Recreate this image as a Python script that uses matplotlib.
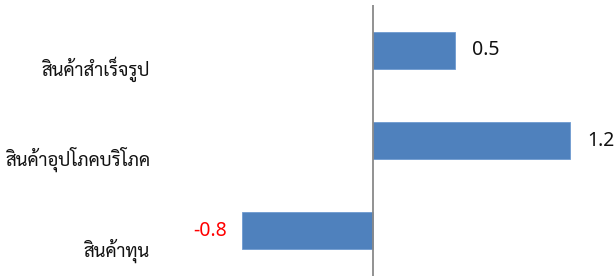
import matplotlib
matplotlib.use("Agg")
import matplotlib.pyplot as plt
from matplotlib.transforms import blended_transform_factory, offset_copy

plt.rcParams['font.family'] = ['Sarabun', 'DejaVu Sans']

categories = ["สินค้าทุน", "สินค้าอุปโภคบริโภค", "สินค้าสำเร็จรูป"]
values = [-0.8, 1.2, 0.5]
value_labels = ["-0.8", "1.2", "0.5"]

W, H, DPI = 616, 277, 100
fig = plt.figure(figsize=(W / DPI, H / DPI), dpi=DPI)
ax = fig.add_axes([0, 1 / H, 1, 271 / H])

px_per_unit = 164.0
x0 = 373.0
ax.set_xlim(-x0 / px_per_unit, (W - x0) / px_per_unit)
ax.set_ylim(-0.5, 2.5)

y = list(range(len(categories)))
ax.barh(y, values, height=0.41, color="#4F81BD", edgecolor="#6F9BD0", linewidth=0.6)
ax.axvline(0, color="#898989", lw=1.3)

for s in ax.spines.values():
    s.set_visible(False)
ax.set_xticks([])
ax.set_yticks([])

# category labels, right aligned in a column left of the plot
trans = blended_transform_factory(fig.transFigure, ax.transData)
trans_lab = offset_copy(trans, fig=fig, x=0, y=-25.5, units='dots')
for yi, cat in zip(y, categories):
    ax.text(150 / W, yi, cat, transform=trans_lab, ha="right", va="baseline",
            fontsize=13.3, color="#111111")

# value labels
num_font = ['Noto Sans', 'DejaVu Sans']
for yi, v, lab in zip(y, values, value_labels):
    if v >= 0:
        t = offset_copy(ax.transData, fig=fig, x=17, y=0, units='dots')
        ax.text(v, yi, lab, transform=t, ha="left", va="center", fontsize=14,
                color="#111111", family=num_font)
    else:
        t = offset_copy(ax.transData, fig=fig, x=-15, y=0, units='dots')
        ax.text(v, yi, lab, transform=t, ha="right", va="center", fontsize=14,
                color="#FF0000", family=num_font)

fig.savefig("out.png", dpi=DPI)
